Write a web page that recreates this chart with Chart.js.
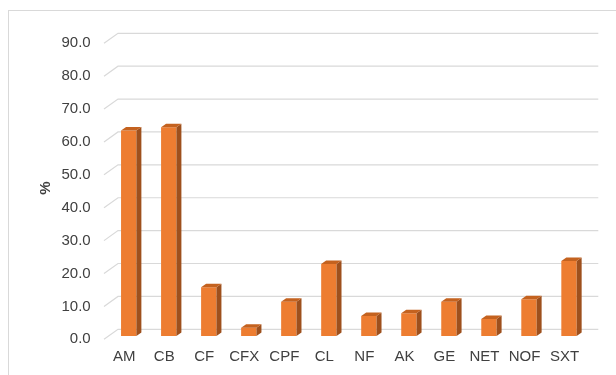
<!DOCTYPE html>
<html>
<head>
<meta charset="utf-8">
<script src="https://cdn.jsdelivr.net/npm/chart.js@4.4.1/dist/chart.umd.min.js"></script>
<style>
    html, body { margin: 0; padding: 0; background: #fff; }
    #grafico { display: block; }
</style>
</head>
<body>
<canvas id="grafico" width="616" height="375"></canvas>
<script>
// Datos
const categorias = ["AM", "CB", "CF", "CFX", "CPF", "CL", "NF", "AK", "GE", "NET", "NOF", "SXT"];
const porcentajes = [62.5, 63.5, 14.8, 2.5, 10.4, 21.9, 6.1, 6.9, 10.4, 5.2, 11.2, 22.8];
const ticksY = [0, 10, 20, 30, 40, 50, 60, 70, 80, 90];

(function () {
    // Profundidad de la "perspectiva" estilo Excel 3D
    const fondo = { dx: 9.3, dy: -6.7 };
    const frente = { dx: -4.7, dy: 3.3 };
    const prof = { dx: 5, dy: -3.5 };

    Chart.defaults.font.family = 'Arial, "Liberation Sans", sans-serif';
    Chart.defaults.color = '#404040';

    // Marco exterior y rejilla de la pared del fondo
    const efecto3D = {
        id: 'efecto3D',
        beforeDraw(chart) {
            const ctx = chart.ctx;
            ctx.save();
            ctx.strokeStyle = '#d9d9d9';
            ctx.lineWidth = 1;
            ctx.strokeRect(8.5, 10.5, 700, 500);
            ctx.restore();
        },
        beforeDatasetsDraw(chart) {
            const ctx = chart.ctx;
            const area = chart.chartArea;
            const y = chart.scales.y;
            ctx.save();
            ctx.strokeStyle = '#d9d9d9';
            ctx.lineWidth = 1.2;
            y.ticks.forEach(t => {
                const py = y.getPixelForValue(t.value);
                ctx.beginPath();
                ctx.moveTo(area.left + frente.dx, py + frente.dy);
                ctx.lineTo(area.left + fondo.dx, py + fondo.dy);
                ctx.lineTo(area.right + fondo.dx, py + fondo.dy);
                ctx.stroke();
            });
            ctx.restore();
        },
        afterDatasetsDraw(chart) {
            const ctx = chart.ctx;
            const meta = chart.getDatasetMeta(0);
            ctx.save();
            meta.data.forEach(bar => {
                const w = bar.width / 2;
                // cara lateral
                ctx.fillStyle = '#9E501D';
                ctx.beginPath();
                ctx.moveTo(bar.x + w, bar.y);
                ctx.lineTo(bar.x + w + prof.dx, bar.y + prof.dy);
                ctx.lineTo(bar.x + w + prof.dx, bar.base + prof.dy);
                ctx.lineTo(bar.x + w, bar.base);
                ctx.closePath();
                ctx.fill();
                // cara superior
                ctx.fillStyle = '#C4621F';
                ctx.beginPath();
                ctx.moveTo(bar.x - w, bar.y);
                ctx.lineTo(bar.x - w + prof.dx, bar.y + prof.dy);
                ctx.lineTo(bar.x + w + prof.dx, bar.y + prof.dy);
                ctx.lineTo(bar.x + w, bar.y);
                ctx.closePath();
                ctx.fill();
            });
            ctx.restore();
        }
    };

    const grafico = document.getElementById("grafico").getContext("2d");

    let barras = new Chart(grafico, {
        type: 'bar',
        data: {
            labels: categorias,
            datasets: [{
                data: porcentajes,
                backgroundColor: '#ED7D31',
                borderWidth: 0,
                barPercentage: 0.383,
                categoryPercentage: 1
            }]
        },
        options: {
            responsive: false,
            animation: false,
            layout: { padding: { top: 40, right: 27, left: 0, bottom: 0 } },
            plugins: {
                legend: { display: false },
                tooltip: { enabled: false }
            },
            scales: {
                x: {
                    grid: { display: false, drawTicks: false },
                    border: { display: false },
                    ticks: {
                        font: { size: 15 },
                        padding: 12,
                        labelOffset: -4.5,
                        maxRotation: 0,
                        autoSkip: false
                    },
                    afterFit: scale => { scale.height = 39; }
                },
                y: {
                    min: ticksY[0],
                    max: ticksY[ticksY.length - 1],
                    grid: { display: false, drawTicks: false },
                    border: { display: false },
                    afterBuildTicks: scale => { scale.ticks = ticksY.map(v => ({ value: v })); },
                    ticks: {
                        font: { size: 15 },
                        padding: 18,
                        labelOffset: 3.3,
                        callback: v => Number(v).toFixed(1)
                    },
                    title: {
                        display: true,
                        text: '%',
                        font: { size: 15, weight: 'bold' },
                        padding: { top: 37, bottom: 0 }
                    },
                    afterFit: scale => { scale.width = 108.7; }
                }
            }
        },
        plugins: [efecto3D]
    });
})();
</script>
</body>
</html>
